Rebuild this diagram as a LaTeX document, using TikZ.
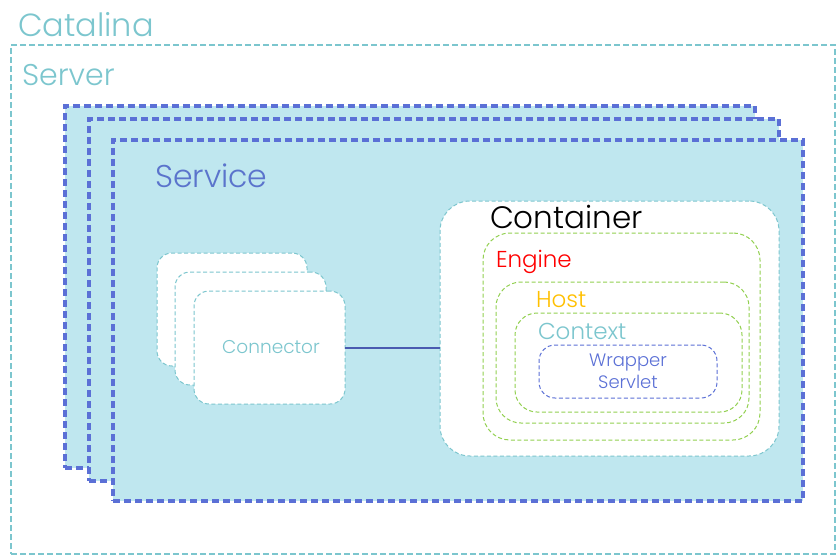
\documentclass[tikz,border=0pt]{standalone}
\usepackage{fontspec}
\setmainfont{Poppins}[UprightFont=* Light]
\definecolor{tealc}{HTML}{7CC6CE}
\definecolor{svcblue}{HTML}{5B70D6}
\definecolor{svcfill}{HTML}{BFE7EF}
\definecolor{svctext}{HTML}{5B74CC}
\definecolor{greenc}{HTML}{92D050}
\definecolor{hostc}{HTML}{FFC000}
\definecolor{linec}{HTML}{4A5BB0}
\tikzset{
  x=1pt, y=-1pt,
  box/.style={anchor=north west, inner sep=0pt, outer sep=0pt},
  serverbox/.style={box, draw=tealc, line width=1.1pt, dash pattern=on 6pt off 3pt},
  svcbox/.style={box, draw=svcblue, fill=svcfill, line width=3.2pt, dash pattern=on 7pt off 4pt},
  contbox/.style={box, draw=tealc, fill=white, line width=1pt, dash pattern=on 4pt off 2.5pt, rounded corners=30pt},
  grnbox/.style={box, draw=greenc, line width=1pt, dash pattern=on 4pt off 2.5pt, rounded corners=#1},
  wrapbox/.style={box, draw=svcblue, line width=1pt, dash pattern=on 4pt off 2.5pt, rounded corners=16pt},
  connbox/.style={box, draw=tealc, fill=white, line width=1pt, dash pattern=on 4pt off 2.5pt, rounded corners=15pt},
  lbl/.style={anchor=base west, inner sep=0pt, outer sep=0pt},
}
\begin{document}
\begin{tikzpicture}
\useasboundingbox (0,0) rectangle (837,556);
% Server
\node[serverbox, minimum width=824pt, minimum height=509pt] (server) at (11,45) {};
\node[lbl, text=tealc, font=\fontsize{32}{34}\selectfont] (catalina) at (18,37) {Catalina};
\node[lbl, text=tealc, font=\fontsize{30}{32}\selectfont] (serverlbl) at (22,86) {Server};
% Services
\node[svcbox, minimum width=690pt, minimum height=362pt] (svc1) at (65,106) {};
\node[svcbox, minimum width=690pt, minimum height=362pt] (svc2) at (89,119) {};
\node[svcbox, minimum width=690pt, minimum height=361pt] (svc3) at (113,140) {};
\node[lbl, text=svctext, font=\fontsize{31.5}{34}\selectfont] (svclbl) at (155,187) {Service};
% Connectors
\node[connbox, minimum width=150pt, minimum height=113pt] (conn1) at (157,253) {};
\node[connbox, minimum width=151pt, minimum height=113pt] (conn2) at (175,272) {};
\node[connbox, minimum width=151pt, minimum height=113pt] (conn3) at (194,291) {};
\node[anchor=base, inner sep=0pt, text=tealc, font=\fontsize{18.5}{21}\selectfont] (connlbl) at (271,353) {Connector};
% Container
\node[contbox, minimum width=339pt, minimum height=255pt] (cont) at (440,201) {};
\node[lbl, text=black, font=\fontsize{31}{33}\selectfont] (contlbl) at (490,228) {Container};
\node[grnbox=27pt, minimum width=277pt, minimum height=207pt] (engine) at (483,233) {};
\node[lbl, text=red, font=\fontsize{23}{25}\selectfont] (enginelbl) at (496,267) {Engine};
\node[grnbox=25pt, minimum width=253pt, minimum height=141pt] (host) at (496,282) {};
\node[lbl, text=hostc, font=\fontsize{23}{25}\selectfont] (hostlbl) at (536,307) {Host};
\node[grnbox=22pt, minimum width=227pt, minimum height=99pt] (context) at (515,313) {};
\node[lbl, text=tealc, font=\fontsize{23}{25}\selectfont] (contextlbl) at (538,339) {Context};
\node[wrapbox, minimum width=178pt, minimum height=53pt] (wrap) at (539,345) {};
\node[anchor=base, inner sep=0pt, text=svcblue, font=\fontsize{18}{20}\selectfont] (wraplbl) at (628,366) {Wrapper};
\node[anchor=base, inner sep=0pt, text=svcblue, font=\fontsize{18}{20}\selectfont] (servletlbl) at (628,388) {Servlet};
% link
\draw[linec, line width=2pt] (conn3.east) -- (conn3.east -| cont.west);
\end{tikzpicture}
\end{document}
